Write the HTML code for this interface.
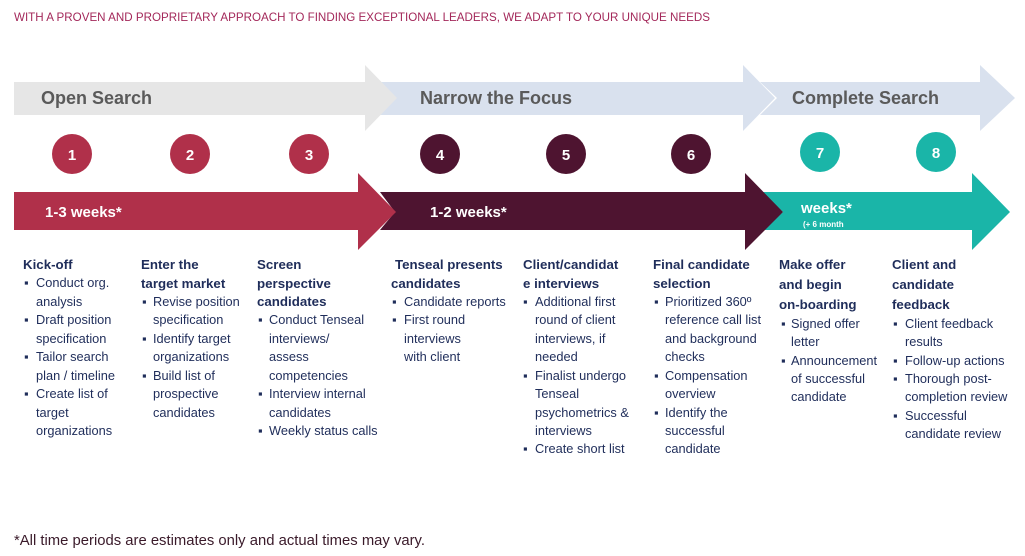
<!DOCTYPE html>
<html><head><meta charset="utf-8"><style>
html,body{margin:0;padding:0;background:#fff;}
svg{display:block}
text{font-family:"Liberation Sans",sans-serif}
.h{font-weight:bold;font-size:13.3px;fill:#1f2d5a}
.b{font-size:12.8px;fill:#1f2d5a}
.n{font-weight:bold;font-size:15px;fill:#fff;text-anchor:middle}
.t{font-weight:bold;font-size:18px;fill:#5a5a5a}
.w{font-weight:bold;font-size:15px;fill:#fff}
</style></head><body>
<svg width="1025" height="556" viewBox="0 0 1025 556" xmlns="http://www.w3.org/2000/svg">
<text x="14" y="21" font-size="12" fill="#a3285a" textLength="696" lengthAdjust="spacingAndGlyphs">WITH A PROVEN AND PROPRIETARY APPROACH TO FINDING EXCEPTIONAL LEADERS, WE ADAPT TO YOUR UNIQUE NEEDS</text>
<polygon points="760,82 980,82 980,65 1015,98 980,131 980,115 760,115 777,98" fill="#d9e1ee"/>
<polygon points="380,82 743,82 743,65 775,98 743,131 743,115 380,115 395,98" fill="#d9e1ee"/>
<polygon points="14,82 365,82 365,65 397,98 365,131 365,115 14,115" fill="#e6e6e6"/>
<text class="t" x="41" y="104">Open Search</text>
<text class="t" x="420" y="104">Narrow the Focus</text>
<text class="t" x="792" y="104">Complete Search</text>
<g>
<circle cx="72" cy="154" r="20" fill="#b0304a"/><text class="n" x="72" y="160">1</text>
<circle cx="190" cy="154" r="20" fill="#b0304a"/><text class="n" x="190" y="160">2</text>
<circle cx="309" cy="154" r="20" fill="#b0304a"/><text class="n" x="309" y="160">3</text>
<circle cx="440" cy="154" r="20" fill="#4e1430"/><text class="n" x="440" y="160">4</text>
<circle cx="566" cy="154" r="20" fill="#4e1430"/><text class="n" x="566" y="160">5</text>
<circle cx="691" cy="154" r="20" fill="#4e1430"/><text class="n" x="691" y="160">6</text>
<circle cx="820" cy="152" r="20" fill="#1ab5a8"/><text class="n" x="820" y="158">7</text>
<circle cx="936" cy="152" r="20" fill="#1ab5a8"/><text class="n" x="936" y="158">8</text>
</g>
<polygon points="762,192 972,192 972,173 1010,212 972,250 972,230 762,230 783,212" fill="#1ab5a8"/>
<polygon points="380,192 745,192 745,173 783,212 745,250 745,230 380,230 395,212" fill="#4e1430"/>
<polygon points="14,192 358,192 358,173 396,212 358,250 358,230 14,230" fill="#b0304a"/>
<text class="w" x="45" y="217">1-3 weeks*</text>
<text class="w" x="430" y="217">1-2 weeks*</text>
<text class="w" x="801" y="213">weeks*</text>
<text x="803" y="227" font-size="8" font-weight="bold" fill="#fff">(+ 6 month</text>
<g>
<text class="h" x="23" y="269">Kick-off</text>
<text class="b" x="24" y="287">▪</text><text class="b" x="36" y="287">Conduct org.</text>
<text class="b" x="36" y="306">analysis</text>
<text class="b" x="24" y="324">▪</text><text class="b" x="36" y="324">Draft position</text>
<text class="b" x="36" y="343">specification</text>
<text class="b" x="24" y="361">▪</text><text class="b" x="36" y="361">Tailor search</text>
<text class="b" x="36" y="380">plan / timeline</text>
<text class="b" x="24" y="398">▪</text><text class="b" x="36" y="398">Create list of</text>
<text class="b" x="36" y="417">target</text>
<text class="b" x="36" y="435">organizations</text>
</g>
<g>
<text class="h" x="141" y="269">Enter the</text>
<text class="h" x="141" y="288">target market</text>
<text class="b" x="142" y="306">▪</text><text class="b" x="153" y="306">Revise position</text>
<text class="b" x="153" y="324">specification</text>
<text class="b" x="142" y="343">▪</text><text class="b" x="153" y="343">Identify target</text>
<text class="b" x="153" y="361">organizations</text>
<text class="b" x="142" y="380">▪</text><text class="b" x="153" y="380">Build list of</text>
<text class="b" x="153" y="398">prospective</text>
<text class="b" x="153" y="417">candidates</text>
</g>
<g>
<text class="h" x="257" y="269">Screen</text>
<text class="h" x="257" y="288">perspective</text>
<text class="h" x="257" y="306">candidates</text>
<text class="b" x="258" y="324">▪</text><text class="b" x="269" y="324">Conduct Tenseal</text>
<text class="b" x="269" y="343">interviews/</text>
<text class="b" x="269" y="361">assess</text>
<text class="b" x="269" y="380">competencies</text>
<text class="b" x="258" y="398">▪</text><text class="b" x="269" y="398">Interview internal</text>
<text class="b" x="269" y="417">candidates</text>
<text class="b" x="258" y="435">▪</text><text class="b" x="269" y="435">Weekly status calls</text>
</g>
<g>
<text class="h" x="395" y="269">Tenseal  presents</text>
<text class="h" x="391" y="288">candidates</text>
<text class="b" x="392" y="306">▪</text><text class="b" x="404" y="306">Candidate reports</text>
<text class="b" x="392" y="324">▪</text><text class="b" x="404" y="324">First round</text>
<text class="b" x="404" y="343">interviews</text>
<text class="b" x="404" y="361">with client</text>
</g>
<g>
<text class="h" x="523" y="269">Client/candidat</text>
<text class="h" x="523" y="288">e interviews</text>
<text class="b" x="523" y="306">▪</text><text class="b" x="535" y="306">Additional first</text>
<text class="b" x="535" y="324">round of client</text>
<text class="b" x="535" y="343">interviews, if</text>
<text class="b" x="535" y="361">needed</text>
<text class="b" x="523" y="380">▪</text><text class="b" x="535" y="380">Finalist undergo</text>
<text class="b" x="535" y="398">Tenseal</text>
<text class="b" x="535" y="417">psychometrics &amp;</text>
<text class="b" x="535" y="435">interviews</text>
<text class="b" x="523" y="453">▪</text><text class="b" x="535" y="453">Create short list</text>
</g>
<g>
<text class="h" x="653" y="269">Final candidate</text>
<text class="h" x="653" y="288">selection</text>
<text class="b" x="654" y="306">▪</text><text class="b" x="665" y="306">Prioritized 360º</text>
<text class="b" x="665" y="324">reference call list</text>
<text class="b" x="665" y="343">and background</text>
<text class="b" x="665" y="361">checks</text>
<text class="b" x="654" y="380">▪</text><text class="b" x="665" y="380">Compensation</text>
<text class="b" x="665" y="398">overview</text>
<text class="b" x="654" y="417">▪</text><text class="b" x="665" y="417">Identify the</text>
<text class="b" x="665" y="435">successful</text>
<text class="b" x="665" y="453">candidate</text>
</g>
<g>
<text class="h" x="779" y="269">Make offer</text>
<text class="h" x="779" y="289">and begin</text>
<text class="h" x="779" y="309">on-boarding</text>
<text class="b" x="781" y="328">▪</text><text class="b" x="791" y="328">Signed offer</text>
<text class="b" x="791" y="346">letter</text>
<text class="b" x="781" y="365">▪</text><text class="b" x="791" y="365">Announcement</text>
<text class="b" x="791" y="383">of successful</text>
<text class="b" x="791" y="401">candidate</text>
</g>
<g>
<text class="h" x="892" y="269">Client and</text>
<text class="h" x="892" y="289">candidate</text>
<text class="h" x="892" y="309">feedback</text>
<text class="b" x="893" y="328">▪</text><text class="b" x="905" y="328">Client feedback</text>
<text class="b" x="905" y="346">results</text>
<text class="b" x="893" y="365">▪</text><text class="b" x="905" y="365">Follow-up actions</text>
<text class="b" x="893" y="383">▪</text><text class="b" x="905" y="383">Thorough post-</text>
<text class="b" x="905" y="401">completion review</text>
<text class="b" x="893" y="420">▪</text><text class="b" x="905" y="420">Successful</text>
<text class="b" x="905" y="438">candidate review</text>
</g>
<text x="14" y="545" font-size="15" fill="#3a1a2a" textLength="411" lengthAdjust="spacingAndGlyphs">*All time periods are estimates only and actual times may vary.</text>
</svg>
</body></html>
